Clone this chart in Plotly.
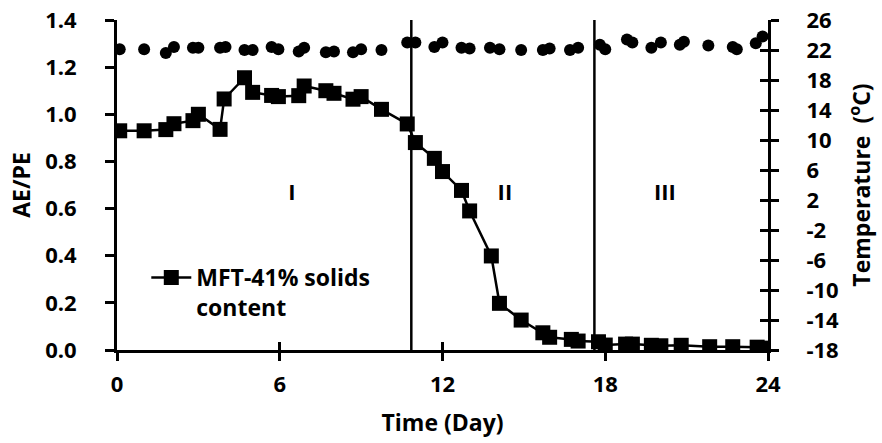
import plotly.graph_objects as go

# AE/PE series (MFT-41% solids content)
ae_days = [0.1, 1.0, 1.8, 2.1, 2.8, 3.0, 3.8, 3.95, 4.7, 5.0, 5.7, 5.95, 6.7, 6.9,
           7.7, 8.0, 8.7, 9.0, 9.75, 10.7, 11.0, 11.7, 12.0, 12.7, 13.0, 13.8, 14.1,
           14.9, 15.7, 15.95, 16.75, 17.0, 17.75, 18.0, 18.75, 19.0, 19.7, 20.05,
           20.8, 21.85, 22.7, 23.6, 23.9]
ae_pe = [0.93, 0.93, 0.935, 0.96, 0.973, 1.0, 0.936, 1.065, 1.155, 1.093, 1.08, 1.075,
         1.079, 1.12, 1.10, 1.089, 1.064, 1.075, 1.021, 0.959, 0.88, 0.813, 0.757,
         0.677, 0.59, 0.399, 0.198, 0.127, 0.073, 0.054, 0.045, 0.038, 0.035, 0.021,
         0.025, 0.025, 0.02, 0.018, 0.02, 0.014, 0.014, 0.012, 0.008]

# Temperature series (°C)
t_days = [0.1, 1.0, 1.8, 2.1, 2.8, 3.0, 3.8, 4.0, 4.7, 5.0, 5.7, 5.95, 6.7, 6.9, 7.7,
          8.0, 8.7, 9.0, 9.75, 10.7, 11.0, 11.7, 12.0, 12.7, 13.0, 13.75, 14.1, 14.9,
          15.7, 15.95, 16.7, 17.0, 17.8, 18.0, 18.8, 19.0, 19.7, 20.05, 20.75, 20.9,
          21.8, 22.7, 22.85, 23.55, 23.8]
temp = [22.1, 22.1, 21.6, 22.4, 22.3, 22.3, 22.3, 22.4, 22.0, 22.0, 22.4, 22.1, 21.8,
        22.3, 21.7, 21.8, 21.7, 22.1, 22.0, 23.0, 23.0, 22.4, 23.0, 22.3, 22.2, 22.3,
        22.1, 22.0, 22.0, 22.2, 22.0, 22.3, 22.7, 22.1, 23.4, 23.0, 22.3, 23.0, 22.7,
        23.1, 22.6, 22.4, 22.1, 22.9, 23.8]

# Phase boundaries and labels
boundaries = [10.85, 17.6]
phase_names = ["I", "II", "III"]
phase_x = [6.45, 14.3, 20.2]
phase_y = [0.66, 0.66, 0.66]

x_ticks = [0, 6, 12, 18, 24]
x_labels = ["0", "6", "12", "18", "24"]
y_ticks = [0.0, 0.2, 0.4, 0.6, 0.8, 1.0, 1.2, 1.4]
y_labels = ["0.0", "0.2", "0.4", "0.6", "0.8", "1.0", "1.2", "1.4"]
t_ticks = [-18, -14, -10, -6, -2, 2, 6, 10, 14, 18, 22, 26]
t_labels = ["-18", "-14", "-10", "-6", "-2", "2", "6", "10", "14", "18", "22", "26"]

FONT = "Open Sans"
B = lambda s: "<b>%s</b>" % s

fig = go.Figure()

for b in boundaries:
    fig.add_trace(go.Scatter(x=[b, b], y=[0, 1.4], mode="lines",
                             line=dict(color="black", width=2.5),
                             showlegend=False, hoverinfo="skip"))

fig.add_trace(go.Scatter(x=ae_days, y=ae_pe, mode="lines+markers",
                         name=B("MFT-41% solids<br>content"),
                         line=dict(color="black", width=2.5),
                         marker=dict(symbol="square", size=15, color="black")))

fig.add_trace(go.Scatter(x=t_days, y=temp, mode="markers", yaxis="y2",
                         showlegend=False,
                         marker=dict(symbol="circle", size=12, color="black")))

fig.add_trace(go.Scatter(x=phase_x, y=phase_y, mode="text",
                         text=[B(p) for p in phase_names],
                         textfont=dict(family=FONT, size=22, color="black"),
                         showlegend=False, hoverinfo="skip"))

# invisible traces to activate the inner-tick overlay axes
fig.add_trace(go.Scatter(x=[None], y=[None], xaxis="x2", yaxis="y3",
                         showlegend=False, hoverinfo="skip"))
fig.add_trace(go.Scatter(x=[None], y=[None], xaxis="x2", yaxis="y4",
                         showlegend=False, hoverinfo="skip"))

tickfont = dict(family=FONT, size=22, color="black")
titlefont = dict(family=FONT, size=23, color="black")
common = dict(showgrid=False, zeroline=False, showline=True, linecolor="black",
              linewidth=3, tickwidth=3, tickcolor="black", tickfont=tickfont,
              automargin=False)

fig.update_layout(
    width=882, height=443,
    margin=dict(l=117, r=114, t=20, b=93, autoexpand=False),
    plot_bgcolor="white", paper_bgcolor="white",
    xaxis=dict(range=[0, 24], tickvals=x_ticks, ticktext=[B(t) for t in x_labels],
               ticks="outside", ticklen=8, ticklabelstandoff=5,
               title=dict(text=B("Time (Day)"), font=titlefont, standoff=18), **common),
    xaxis2=dict(range=[0, 24], tickvals=x_ticks, overlaying="x", anchor="y",
                showticklabels=False, ticks="inside", ticklen=8, **common),
    yaxis=dict(range=[0, 1.4], tickvals=y_ticks, ticktext=[B(t) for t in y_labels],
               ticks="outside", ticklen=9, ticklabelstandoff=24,
               title=dict(text=B("AE/PE"), font=titlefont, standoff=9), **common),
    yaxis3=dict(range=[0, 1.4], overlaying="y", anchor="x2", showticklabels=False,
                ticks="", **common),
    yaxis2=dict(range=[-18, 26], tickvals=t_ticks, ticktext=[B(t) for t in t_labels],
                overlaying="y", side="right", ticks="outside", ticklen=8,
                ticklabelstandoff=23,
                title=dict(text=B("Temperature  (<sup>o</sup>C)"), font=titlefont,
                           standoff=16), **common),
    yaxis4=dict(range=[-18, 26], tickvals=t_ticks, overlaying="y", side="right",
                anchor="x2", showticklabels=False, ticks="inside", ticklen=8, **common),
    legend=dict(x=0.045, y=0.285, xanchor="left", yanchor="top", valign="top",
                font=dict(family=FONT, size=23, color="black"),
                bgcolor="rgba(0,0,0,0)", itemwidth=40),
    showlegend=True,
)

fig.write_html("out.html")
